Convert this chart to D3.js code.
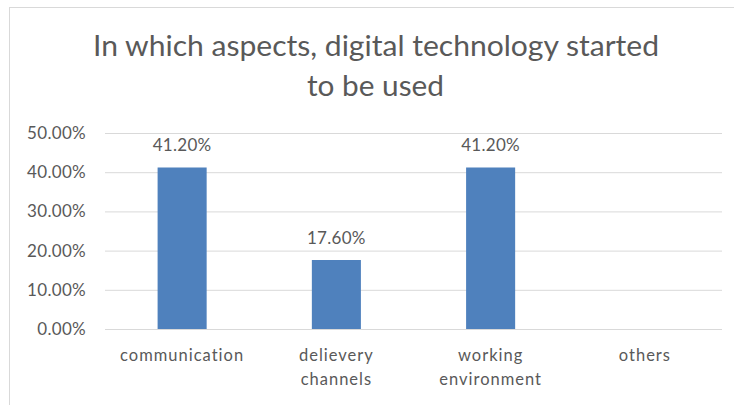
<!DOCTYPE html>
<html>

<head>
    <meta charset="utf-8">
    <script src="https://d3js.org/d3.v7.min.js"></script>
    <style>
        body { margin: 0; background: #fff; }
        text { font-family: Lato, "Open Sans", sans-serif; fill: #595959; }
    </style>
    <script>
        // chart data
        let titleLines = ["In which aspects, digital technology started", "to be used"];
        let categories = [["communication"], ["delievery", "channels"], ["working", "environment"], ["others"]];
        let values = [0.412, 0.176, 0.412, 0];
        let yTicks = [0, 0.1, 0.2, 0.3, 0.4, 0.5];

        function draw() {
            let width = 734,
            height = 405;

            let svg = d3.select("body").append("svg")
                .attr("width", width)
                .attr("height", height);

            // chart area border (runs off the right and bottom)
            svg.append("rect")
                .attr("x", 9.5)
                .attr("y", 7.5)
                .attr("width", 800)
                .attr("height", 500)
                .attr("fill", "white")
                .attr("stroke", "#d9d9d9")

            svg.append("g")
                .attr("class", "title")
                .selectAll("text")
                .data(titleLines)
                .join("text")
                    .attr("x", (d, i) => i == 0 ? 93 : 307)
                    .attr("y", (d, i) => 56 + i * 40)
                    .attr("font-size", 29)
                    .attr("fill", "#606060")
                    .attr("textLength", (d, i) => i == 0 ? 566 : 137)
                    .attr("lengthAdjust", "spacingAndGlyphs")
                    .text(d => d)

            let keys = categories.map(c => c.join(" "));

            let x = d3.scaleBand()
                .domain(keys)
                .range([105, 722])
                .paddingInner(0.682)
                .paddingOuter(0.341)

            let y = d3.scaleLinear()
                .domain([0, 0.5])
                .range([329, 133])

            // gridlines + tick labels
            let yAxis = svg.append("g")
                .attr("transform", "translate(105,0)")
                .call(d3.axisLeft(y).tickValues(yTicks).tickFormat(d3.format(".2%"))
                    .tickSize(-617).tickPadding(19))
            yAxis.select(".domain").remove()
            yAxis.selectAll(".tick line").attr("stroke", "#d9d9d9")
            yAxis.selectAll(".tick text")
                .attr("font-size", 17)
                .attr("letter-spacing", 0.3)
                .attr("font-family", null)
                .attr("fill", null)

            svg.append("g")
                .attr("class", "bars")
                .selectAll("rect")
                .data(values)
                .join("rect")
                    .attr("x", (d, i) => x(keys[i]))
                    .attr("y", d => y(d))
                    .attr("width", x.bandwidth())
                    .attr("height", d => y(0) - y(d))
                    .attr("fill", "#4f81bd")

            // data labels, none for empty bars
            svg.append("g")
                .attr("class", "labels")
                .selectAll("text")
                .data(values.map((v, i) => ({ v: v, k: keys[i] })).filter(d => d.v > 0))
                .join("text")
                    .attr("x", d => x(d.k) + x.bandwidth() / 2)
                    .attr("y", d => y(d.v) - 16)
                    .attr("text-anchor", "middle")
                    .attr("font-size", 17)
                    .attr("letter-spacing", 0.3)
                    .text(d => d3.format(".2%")(d.v))

            // category labels
            let cat = svg.append("g")
                .attr("class", "categories")
                .selectAll("text")
                .data(categories)
                .join("text")
                    .attr("x", (d, i) => x(keys[i]) + x.bandwidth() / 2)
                    .attr("y", 361)
                    .attr("text-anchor", "middle")
                    .attr("font-size", 16.5)
                    .attr("letter-spacing", 1)

            cat.selectAll("tspan")
                .data(d => d)
                .join("tspan")
                    .attr("x", function() { return this.parentNode.getAttribute("x"); })
                    .attr("dy", (d, i) => i == 0 ? 0 : 24)
                    .text(d => d)
        }
    </script>
</head>
<body>
    <script>
        draw()
    </script>
</body>
</html>
